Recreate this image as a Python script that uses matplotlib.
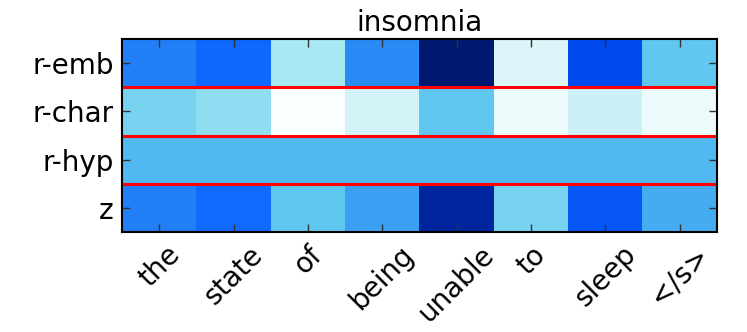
import numpy as np
import matplotlib
matplotlib.use("Agg")
from matplotlib import pyplot as plt
from matplotlib.colors import LinearSegmentedColormap

words = ['the', 'state', 'of', 'being', 'unable', 'to', 'sleep', '</s>']
rows = ['r-emb', 'r-char', 'r-hyp', 'z']

r_emb = [0.55, 0.65, 0.20, 0.50, 1.00, 0.08, 0.75, 0.35]
r_char = [0.30, 0.25, 0.01, 0.10, 0.35, 0.04, 0.12, 0.04]
r_hyp = [0.390, 0.390, 0.388, 0.390, 0.390, 0.387, 0.390, 0.390]
z = [0.55, 0.64, 0.35, 0.45, 0.90, 0.30, 0.70, 0.42]

cmap = LinearSegmentedColormap.from_list('att', [
    (0.0, '#ffffff'), (0.2, '#a8e8f2'), (0.35, '#60c8f0'), (0.5, '#2a8cf6'),
    (0.65, '#1068ff'), (0.75, '#0048f0'), (0.88, '#0028a8'), (1.0, '#001870')])

data = np.array([r_emb, r_char, r_hyp, z])

fig = plt.figure(figsize=(7.47, 3.32), dpi=100)
ax = fig.add_axes([122 / 747, 1 - 232 / 332, 595 / 747, 193 / 332])
ax.imshow(data, cmap=cmap, vmin=0, vmax=1, aspect='auto', interpolation='nearest')
for y in [0.5, 1.5, 2.5]:
    ax.axhline(y, color='red', linewidth=2.2)

ax.set_xticks(range(len(words)))
ax.set_xticklabels(words, rotation=45, fontsize=20)
ax.set_yticks(range(len(rows)))
ax.set_yticklabels(rows, fontsize=20)
ax.tick_params(direction='in', top=True, right=True, length=6, width=1,
               color='#333333', pad=6)
for s in ax.spines.values():
    s.set_linewidth(1.5)
ax.set_title('insomnia', fontsize=20)

plt.savefig('out.png', dpi=100)
